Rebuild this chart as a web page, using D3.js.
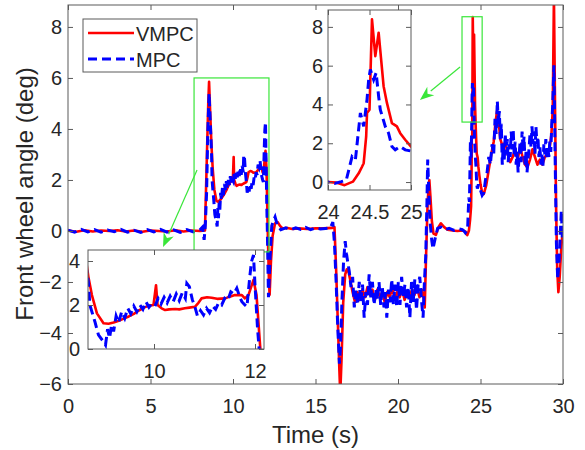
<!DOCTYPE html>
<html>
<head>
<meta charset="utf-8">
<script src="https://cdn.jsdelivr.net/npm/d3@7"></script>
<style>
  body { margin: 0; background: #fff; }
  svg { font-family: "Liberation Sans", Arial, sans-serif; }
  .tick text { fill: #262626; }
</style>
</head>
<body>
<svg id="chart" width="585" height="450"></svg>
<script>
// front wheel angle, VMPC (red) and MPC (blue)
const tVmpc = [0, 0.5, 1, 1.5, 2, 2.5, 3, 3.5, 4, 4.5, 5, 5.5, 6, 6.5, 7, 7.5, 8, 8.3,
  8.4, 8.5, 8.55, 8.62, 8.7, 8.77, 8.87, 9.0, 9.1, 9.2, 9.3, 9.4, 9.5, 9.6, 9.7, 9.8, 9.9,
  9.99, 10.04, 10.07, 10.15, 10.22, 10.3, 10.42, 10.5, 10.61, 10.7, 10.81, 10.88, 10.94,
  11.05, 11.14, 11.25, 11.41, 11.5, 11.6, 11.74, 11.8, 11.87, 11.97, 12.03, 12.1,
  12.18, 12.22, 12.3, 12.4, 12.55, 12.7, 12.85, 13.0, 13.3, 13.6, 14.0, 14.5, 15.0, 15.5,
  16.0, 16.15, 16.25, 16.35, 16.45, 16.5, 16.58, 16.68, 16.8, 16.9, 17.0, 17.1, 17.25,
  17.4, 17.55, 17.7, 17.85, 18.0, 18.15, 18.3, 18.45, 18.6, 18.75, 18.9, 19.05, 19.2,
  19.35, 19.5, 19.65, 19.8, 19.95, 20.1, 20.25, 20.4, 20.55, 20.7, 20.85, 21.0, 21.15,
  21.3, 21.45, 21.55, 21.62, 21.7, 21.8, 21.9, 21.97, 22.05, 22.15, 22.3, 22.45, 22.6,
  22.8, 23.0, 23.3, 23.6, 23.9, 24.0, 24.1, 24.2, 24.3, 24.37, 24.41, 24.43, 24.46, 24.47,
  24.5, 24.53, 24.57, 24.61, 24.67, 24.71, 24.77, 24.83, 24.87, 24.93, 25.0, 25.1, 25.2,
  25.35, 25.5, 25.65, 25.8, 25.9, 26.0, 26.1, 26.2, 26.35, 26.5, 26.65, 26.8, 26.95, 27.1,
  27.25, 27.4, 27.55, 27.7, 27.85, 28.0, 28.15, 28.3, 28.45, 28.6, 28.75, 28.9, 29.05,
  29.2, 29.3, 29.38, 29.45, 29.5, 29.58, 29.65, 29.72, 29.8, 29.9, 30.0]
const vVmpc = [0.02, -0.03, 0.03, -0.02, 0.02, 0, 0.03, -0.02, 0.02, -0.03, 0.02, 0, -0.02, 0.03, -0.02, 0.02, 0, 0.02,
  2.5, 5.0, 5.85, 4.6, 3.29, 2.45, 1.62, 1.17, 1.15, 1.2, 1.28, 1.38, 1.48, 1.6, 1.75, 1.88, 1.97,
  2.0, 2.9, 2.0, 1.85, 1.77, 1.8, 1.82, 1.8, 1.85, 1.88, 1.92, 2.1, 2.3,
  2.35, 2.33, 2.28, 2.3, 2.38, 2.45, 2.45, 2.3, 2.45, 3.14, 2.45, 0.18,
  -2.0, -2.5, -1.2, -0.2, 0.3, 0.35, 0.2, 0.1, 0.12, 0.08, 0.1, 0.08, 0.1, 0.1,
  0.12, 0.15, -1.5, -3.5, -5.5, -6.4, -5.0, -2.8, -1.7, -1.5, -1.6, -1.9, -2.4,
  -2.8, -2.4, -2.7, -2.3, -2.6, -2.2, -2.5, -2.3, -2.7, -2.3, -2.6, -2.4, -2.8,
  -2.4, -2.6, -2.2, -2.7, -2.4, -2.6, -2.3, -2.7, -2.4, -2.6, -2.3, -2.5, -2.2,
  -2.6, -2.3, -2.6, -3.0, -1.0, 1.2, 2.0, 1.3, 0.4, -0.1, -0.15, 0.15, 0.3,
  0.15, 0.05, 0.02, 0.0, 0.02, 0.0, -0.03, -0.16, 0.02, 0.45, 0.79, 0.97, 2.35, 3.56,
  3.73, 8.39, 6.49, 7.7, 4.94, 4.08, 3.04, 2.87, 2.52, 2.18, 1.83, 1.5, 1.45,
  1.8, 2.4, 3.0, 3.5, 4.2, 4.7, 4.3, 3.6, 3.3, 3.5, 3.0, 2.7, 2.9, 3.2,
  2.8, 3.3, 2.9, 2.6, 2.5, 2.8, 3.2, 2.9, 2.6, 2.8, 2.6, 2.9, 3.0,
  3.3, 3.8, 4.8, 9.2, 6.0, 1.0, -1.5, -2.4, -1.8, -0.6, 0.1]

const tMpc = [0, 0.4, 0.8, 1.2, 1.6, 2.0, 2.4, 2.8, 3.2, 3.6, 4.0, 4.4, 4.8, 5.2, 5.6, 6.0, 6.4, 6.8, 7.2, 7.6, 8.0,
  8.15, 8.25, 8.32, 8.4, 8.47, 8.55, 8.62, 8.7, 8.73, 8.83, 8.9, 9.0, 9.04, 9.08, 9.12, 9.16, 9.2,
  9.25, 9.3, 9.36, 9.42, 9.48, 9.54, 9.6, 9.66, 9.72, 9.78, 9.84, 9.9, 9.95, 10.02, 10.08,
  10.14, 10.2, 10.26, 10.32, 10.38, 10.44, 10.5, 10.56, 10.62, 10.65, 10.7, 10.76, 10.81,
  10.86, 10.92, 10.98, 11.04, 11.1, 11.16, 11.22, 11.28, 11.34, 11.4, 11.46, 11.52, 11.58,
  11.64, 11.7, 11.74, 11.8, 11.84, 11.9, 11.93, 11.97, 12.0, 12.05, 12.08,
  12.15, 12.25, 12.35, 12.45, 12.55, 12.7, 12.9, 13.2, 13.5, 13.8, 14.1, 14.4, 14.7, 15.0, 15.3,
  15.6, 15.9, 16.05, 16.15, 16.25, 16.35, 16.45, 16.52, 16.6, 16.7, 16.8, 16.88, 16.95, 17.05,
  17.15, 17.25, 17.35, 17.45, 17.55, 17.65, 17.75, 17.85, 17.95, 18.05, 18.15, 18.25, 18.35,
  18.45, 18.55, 18.65, 18.75, 18.85, 18.95, 19.05, 19.15, 19.25, 19.32, 19.42, 19.52, 19.62,
  19.72, 19.82, 19.92, 20.02, 20.12, 20.22, 20.32, 20.42, 20.52, 20.62, 20.72, 20.82, 20.92,
  21.02, 21.12, 21.22, 21.32, 21.42, 21.52, 21.6, 21.68, 21.75, 21.8, 21.87, 21.95, 22.05,
  22.12, 22.25, 22.4, 22.6, 22.8, 23.1, 23.4, 23.7, 23.9, 24.0, 24.08, 24.16, 24.22, 24.29,
  24.33, 24.39, 24.43, 24.47, 24.49, 24.51, 24.55, 24.58, 24.61, 24.63, 24.69, 24.73, 24.77,
  24.81, 24.87, 24.93, 25.0, 25.1, 25.2, 25.3, 25.4, 25.5, 25.6, 25.7, 25.8, 25.88, 25.95,
  26.02, 26.08, 26.14, 26.2, 26.26, 26.32, 26.38, 26.44, 26.5, 26.56, 26.62, 26.68, 26.74,
  26.8, 26.86, 26.92, 26.98, 27.04, 27.1, 27.16, 27.22, 27.28, 27.34, 27.4, 27.46, 27.52,
  27.58, 27.64, 27.7, 27.76, 27.82, 27.88, 27.94, 28.0, 28.06, 28.12, 28.18, 28.24, 28.3,
  28.36, 28.42, 28.48, 28.54, 28.6, 28.66, 28.72, 28.78, 28.84, 28.9, 28.96, 29.02, 29.08,
  29.14, 29.2, 29.26, 29.32, 29.38, 29.45, 29.52, 29.6, 29.68, 29.76,
  29.84, 29.9, 29.96, 30.02]
const vMpc = [0.03, -0.05, 0.06, -0.04, 0.05, -0.05, 0.04, -0.03, 0.06, -0.05, 0.03, -0.06, 0.05, -0.04, 0.06, -0.05, 0.04, -0.06, 0.05, -0.04, 0.05,
  0.15, -0.35, 0.2, 1.5, 3.8, 5.4, 4.3, 3.06, 2.0, 1.24, 0.64, 0.33, 0.18, 0.9, 0.5, 1.1, 0.8,
  1.5, 1.2, 1.7, 1.4, 1.85, 1.6, 1.95, 1.7, 2.0, 1.8, 2.15, 1.9, 2.05, 1.95, 2.3,
  2.05, 2.35, 2.1, 2.4, 2.15, 2.5, 2.2, 2.55, 2.3, 2.98, 2.83, 2.23, 1.92,
  1.5, 1.75, 1.55, 1.85, 1.65, 1.95, 1.8, 2.1, 2.0, 2.3, 2.2, 2.6, 2.5,
  2.76, 2.35, 2.15, 2.0, 1.92, 3.36, 3.97, 4.27, 2.9, 0.94, 0.05,
  -2.6, -1.0, 0.2, 0.4, 0.55, 0.2, 0.05, 0.12, 0.05, 0.12, 0.06, 0.14, 0.05, 0.12, 0.08,
  0.1, 0.12, 0.35, -0.5, -2.0, -3.8, -5.2, -4.5, -2.8, -1.2, -0.4, -0.9, -1.2, -1.6,
  -2.2, -1.8, -3.0, -2.3, -2.9, -2.0, -2.8, -2.1, -3.4, -2.4, -2.9, -1.7, -2.6,
  -2.0, -2.9, -2.3, -2.7, -2.0, -2.9, -2.2, -3.0, -2.4, -3.4, -2.3, -2.8, -1.9,
  -2.9, -2.1, -3.0, -2.0, -2.9, -1.8, -2.6, -2.1, -3.0, -2.2, -3.4, -2.0, -2.8,
  -1.9, -3.1, -2.1, -1.8, -2.7, -3.4, -2.0, -1.0, 1.0, 2.8, 1.5, 0.3, -0.4,
  -0.7, -0.3, 0.1, 0.15, 0.05, 0.1, 0.02, 0.08, 0.05, 0.0, -0.07, 0.02, 0.1, 1.31,
  1.14, 3.56, 2.87, 4.25, 5.28, 5.8, 5.28, 5.63, 4.42, 3.73, 2.87, 2.52, 1.83,
  1.66, 1.83, 1.66, 1.6, 1.4, 1.5, 2.0, 2.3, 2.9, 2.6, 3.4, 3.0, 4.4, 3.8,
  5.1, 4.2, 4.7, 3.6, 4.2, 2.6, 3.4, 2.8, 3.8, 3.0, 3.6, 2.7, 3.4,
  2.9, 3.9, 3.2, 4.0, 3.0, 3.5, 2.6, 3.1, 2.3, 2.9, 3.5, 2.7, 3.9,
  3.2, 3.7, 2.6, 3.1, 2.3, 2.8, 3.2, 3.8, 3.3, 4.1, 3.4, 3.9, 3.0,
  4.1, 3.4, 3.7, 2.9, 3.3, 2.6, 3.0, 2.5, 3.4, 3.0, 3.6, 2.8, 3.3,
  2.9, 3.5, 3.1, 4.2, 5.0, 6.5, 3.0, -0.5, -1.9, -1.2,
  0.0, 0.8, -0.3, 0.3]

const xTicks = [0, 5, 10, 15, 20, 25, 30]
const yTicks = [-6, -4, -2, 0, 2, 4, 6, 8]
const inset1XTicks = [10, 12]
const inset1YTicks = [0, 2, 4]
const inset2XTicks = [24, 24.5, 25]
const inset2YTicks = [0, 2, 4, 6, 8]

// zoom windows drawn in the main axes (t0, t1, v0, v1)
const zoomBox1 = [7.64, 12.18, -0.82, 6]
const zoomBox2 = [23.88, 25.1, 4.27, 8.4]
// arrows in main data coords: [tFrom, vFrom, tTo, vTo]
const arrow1 = [7.82, 2.39, 5.76, -0.63]
const arrow2 = [23.76, 6.43, 21.33, 5.14]

const svg = d3.select('#chart')
const green = '#3ae63a'
const axisColor = '#5a5a5a'

const vmpcData = tVmpc.map((t, i) => ({ t: t, v: vVmpc[i] }))
const mpcData = tMpc.map((t, i) => ({ t: t, v: vMpc[i] }))

function drawPanel(id, box, xDom, yDom, xt, yt, xPad, yPad) {
    let g = svg.append('g').attr('id', id)
    let xScale = d3.scaleLinear().domain(xDom).range([box.x, box.x + box.w])
    let yScale = d3.scaleLinear().domain(yDom).range([box.y + box.h, box.y])

    g.append('clipPath').attr('id', id + '-clip')
        .append('rect')
        .attr('x', box.x).attr('y', box.y)
        .attr('width', box.w).attr('height', box.h)

    g.append('rect')
        .attr('x', box.x).attr('y', box.y)
        .attr('width', box.w).attr('height', box.h)
        .attr('fill', 'white')

    let line = d3.line()
        .x(d => xScale(d.t))
        .y(d => yScale(d.v))

    let plot = g.append('g').attr('clip-path', 'url(#' + id + '-clip)')
    plot.append('path')
        .datum(vmpcData)
        .attr('d', line)
        .attr('fill', 'none')
        .attr('stroke', '#ff0000')
        .attr('stroke-width', 2.6)
        .attr('stroke-linejoin', 'round')
    plot.append('path')
        .datum(mpcData)
        .attr('d', line)
        .attr('fill', 'none')
        .attr('stroke', '#0000ff')
        .attr('stroke-width', 3)
        .attr('stroke-dasharray', '9,5')

    // ticks point inward on all four sides, labels only bottom/left
    let fmt = d3.format('')
    let xAxis = d3.axisBottom(xScale).tickValues(xt).tickSizeInner(-5).tickSizeOuter(0)
        .tickPadding(xPad).tickFormat(fmt)
    let yAxis = d3.axisLeft(yScale).tickValues(yt).tickSizeInner(-5).tickSizeOuter(0)
        .tickPadding(yPad).tickFormat(fmt)
    g.append('g').attr('transform', 'translate(0,' + (box.y + box.h) + ')').call(xAxis)
    g.append('g').attr('transform', 'translate(' + box.x + ',0)').call(yAxis)
    g.append('g').attr('transform', 'translate(0,' + box.y + ')')
        .call(d3.axisTop(xScale).tickValues(xt).tickSizeInner(-5).tickSizeOuter(0).tickFormat(''))
    g.append('g').attr('transform', 'translate(' + (box.x + box.w) + ',0)')
        .call(d3.axisRight(yScale).tickValues(yt).tickSizeInner(-5).tickSizeOuter(0).tickFormat(''))

    g.selectAll('.domain').remove()
    g.selectAll('.tick line').attr('stroke', axisColor)
    g.selectAll('.tick text').style('font-size', '20px')

    g.append('rect')
        .attr('x', box.x).attr('y', box.y)
        .attr('width', box.w).attr('height', box.h)
        .attr('fill', 'none')
        .attr('stroke', axisColor)
        .attr('stroke-width', 1)

    return { g: g, x: xScale, y: yScale }
}

// main axes
let main = drawPanel('main', { x: 68, y: 5, w: 495, h: 379 }, [0, 30], [-6, 8.86],
    xTicks, yTicks, 15, 6)

main.g.append('text')
    .attr('transform', 'translate(33,194) rotate(-90)')
    .style('text-anchor', 'middle')
    .style('font-size', '24px')
    .attr('fill', '#262626')
    .text('Front wheel angle (deg)')

main.g.append('text')
    .attr('x', 315.5).attr('y', 443)
    .style('text-anchor', 'middle')
    .style('font-size', '24px')
    .attr('fill', '#262626')
    .text('Time (s)')

// green zoom rectangles
for (let zb of [zoomBox1, zoomBox2]) {
    main.g.append('rect')
        .attr('x', main.x(zb[0]))
        .attr('y', main.y(zb[3]))
        .attr('width', main.x(zb[1]) - main.x(zb[0]))
        .attr('height', main.y(zb[2]) - main.y(zb[3]))
        .attr('fill', 'none')
        .attr('stroke', green)
        .attr('stroke-width', 1.2)
}

// arrows
for (let a of [arrow1, arrow2]) {
    let x1 = main.x(a[0]), y1 = main.y(a[1])
    let x2 = main.x(a[2]), y2 = main.y(a[3])
    let ang = Math.atan2(y2 - y1, x2 - x1)
    let len = 14, half = 5.5
    let bx = x2 - len * Math.cos(ang), by = y2 - len * Math.sin(ang)
    main.g.append('line')
        .attr('x1', x1).attr('y1', y1)
        .attr('x2', bx).attr('y2', by)
        .attr('stroke', green)
        .attr('stroke-width', 1.2)
    let pts = [
        [x2, y2],
        [bx - half * Math.sin(ang), by + half * Math.cos(ang)],
        [x2 - 0.7 * len * Math.cos(ang), y2 - 0.7 * len * Math.sin(ang)],
        [bx + half * Math.sin(ang), by - half * Math.cos(ang)]
    ]
    main.g.append('polygon')
        .attr('points', pts.map(p => p.join(',')).join(' '))
        .attr('fill', green)
}

// legend
let legend = main.g.append('g')
legend.append('rect')
    .attr('x', 83).attr('y', 19).attr('width', 114).attr('height', 53)
    .attr('fill', 'white')
    .attr('stroke', axisColor)
    .attr('stroke-width', 1)
legend.append('line')
    .attr('x1', 88).attr('x2', 134).attr('y1', 33).attr('y2', 33)
    .attr('stroke', '#ff0000').attr('stroke-width', 2.6)
legend.append('line')
    .attr('x1', 88).attr('x2', 134).attr('y1', 59).attr('y2', 59)
    .attr('stroke', '#0000ff').attr('stroke-width', 3)
    .attr('stroke-dasharray', '9,5')
legend.append('text')
    .attr('x', 136).attr('y', 41)
    .style('font-size', '20px').attr('fill', '#262626')
    .text('VMPC')
legend.append('text')
    .attr('x', 136).attr('y', 67)
    .style('font-size', '20px').attr('fill', '#262626')
    .text('MPC')

// insets
drawPanel('inset1', { x: 88, y: 250, w: 176, h: 99 }, [8.693, 12.178], [0, 4.5],
    inset1XTicks, inset1YTicks, 15, 8)
drawPanel('inset2', { x: 328, y: 10, w: 83, h: 180 }, [24, 25], [-0.41, 8.87],
    inset2XTicks, inset2YTicks, 15, 5)
</script>
</body>
</html>
